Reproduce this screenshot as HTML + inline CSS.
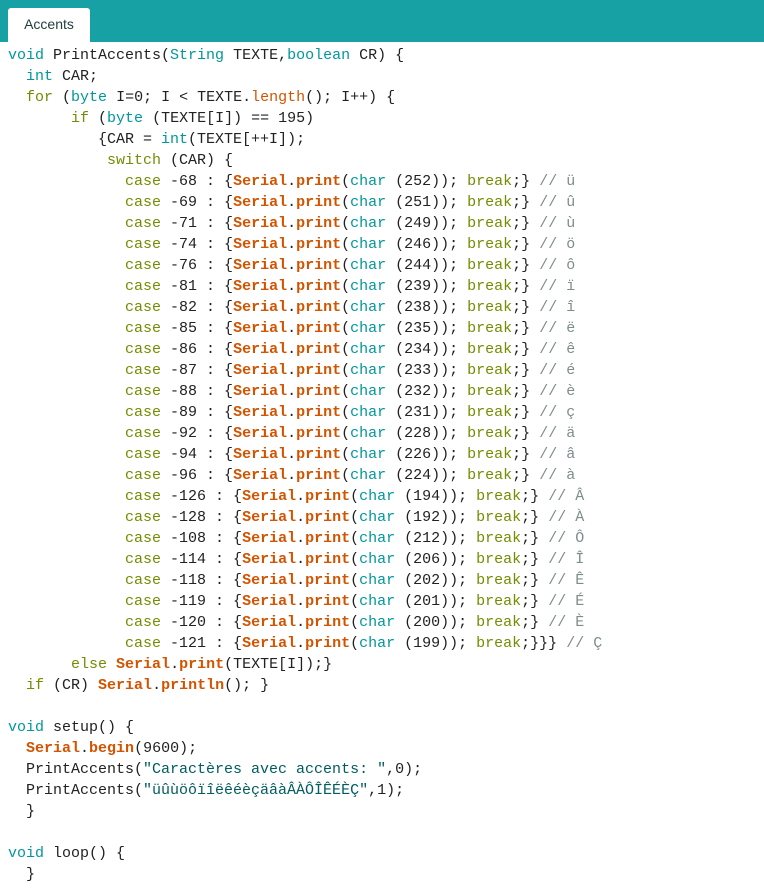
<!DOCTYPE html>
<html><head><meta charset="utf-8"><style>
html,body{margin:0;padding:0;background:#fff;width:764px;height:894px;overflow:hidden}
.bar{position:absolute;left:0;top:0;width:764px;height:42px;background:#17a1a5}
.tab{position:absolute;left:8px;top:8px;width:82px;height:34px;background:#fff;border-radius:3px 3px 0 0;font:14px "Liberation Sans",sans-serif;color:#1f3c3d;line-height:32px;text-align:center}
pre{position:absolute;left:8px;top:45px;margin:0;font:15px/21px "Liberation Mono",monospace;color:#222}
.t{color:#00979c}.k{color:#728e00}.o{color:#d35400}.b{color:#d35400;font-weight:bold}.c{color:#7f8c8d}.s{color:#005c5f}
</style></head><body>
<div class="bar"></div><div class="tab">Accents</div>
<pre><span class="t">void</span> PrintAccents(<span class="t">String</span> TEXTE,<span class="t">boolean</span> CR) {
  <span class="t">int</span> CAR;
  <span class="k">for</span> (<span class="t">byte</span> I=0; I &lt; TEXTE.<span class="o">length</span>(); I++) {
       <span class="k">if</span> (<span class="t">byte</span> (TEXTE[I]) == 195)
          {CAR = <span class="t">int</span>(TEXTE[++I]);
           <span class="k">switch</span> (CAR) {
             <span class="k">case</span> -68 : {<span class="b">Serial</span>.<span class="b">print</span>(<span class="t">char</span> (252)); <span class="k">break</span>;} <span class="c">// ü</span>
             <span class="k">case</span> -69 : {<span class="b">Serial</span>.<span class="b">print</span>(<span class="t">char</span> (251)); <span class="k">break</span>;} <span class="c">// û</span>
             <span class="k">case</span> -71 : {<span class="b">Serial</span>.<span class="b">print</span>(<span class="t">char</span> (249)); <span class="k">break</span>;} <span class="c">// ù</span>
             <span class="k">case</span> -74 : {<span class="b">Serial</span>.<span class="b">print</span>(<span class="t">char</span> (246)); <span class="k">break</span>;} <span class="c">// ö</span>
             <span class="k">case</span> -76 : {<span class="b">Serial</span>.<span class="b">print</span>(<span class="t">char</span> (244)); <span class="k">break</span>;} <span class="c">// ô</span>
             <span class="k">case</span> -81 : {<span class="b">Serial</span>.<span class="b">print</span>(<span class="t">char</span> (239)); <span class="k">break</span>;} <span class="c">// ï</span>
             <span class="k">case</span> -82 : {<span class="b">Serial</span>.<span class="b">print</span>(<span class="t">char</span> (238)); <span class="k">break</span>;} <span class="c">// î</span>
             <span class="k">case</span> -85 : {<span class="b">Serial</span>.<span class="b">print</span>(<span class="t">char</span> (235)); <span class="k">break</span>;} <span class="c">// ë</span>
             <span class="k">case</span> -86 : {<span class="b">Serial</span>.<span class="b">print</span>(<span class="t">char</span> (234)); <span class="k">break</span>;} <span class="c">// ê</span>
             <span class="k">case</span> -87 : {<span class="b">Serial</span>.<span class="b">print</span>(<span class="t">char</span> (233)); <span class="k">break</span>;} <span class="c">// é</span>
             <span class="k">case</span> -88 : {<span class="b">Serial</span>.<span class="b">print</span>(<span class="t">char</span> (232)); <span class="k">break</span>;} <span class="c">// è</span>
             <span class="k">case</span> -89 : {<span class="b">Serial</span>.<span class="b">print</span>(<span class="t">char</span> (231)); <span class="k">break</span>;} <span class="c">// ç</span>
             <span class="k">case</span> -92 : {<span class="b">Serial</span>.<span class="b">print</span>(<span class="t">char</span> (228)); <span class="k">break</span>;} <span class="c">// ä</span>
             <span class="k">case</span> -94 : {<span class="b">Serial</span>.<span class="b">print</span>(<span class="t">char</span> (226)); <span class="k">break</span>;} <span class="c">// â</span>
             <span class="k">case</span> -96 : {<span class="b">Serial</span>.<span class="b">print</span>(<span class="t">char</span> (224)); <span class="k">break</span>;} <span class="c">// à</span>
             <span class="k">case</span> -126 : {<span class="b">Serial</span>.<span class="b">print</span>(<span class="t">char</span> (194)); <span class="k">break</span>;} <span class="c">// Â</span>
             <span class="k">case</span> -128 : {<span class="b">Serial</span>.<span class="b">print</span>(<span class="t">char</span> (192)); <span class="k">break</span>;} <span class="c">// À</span>
             <span class="k">case</span> -108 : {<span class="b">Serial</span>.<span class="b">print</span>(<span class="t">char</span> (212)); <span class="k">break</span>;} <span class="c">// Ô</span>
             <span class="k">case</span> -114 : {<span class="b">Serial</span>.<span class="b">print</span>(<span class="t">char</span> (206)); <span class="k">break</span>;} <span class="c">// Î</span>
             <span class="k">case</span> -118 : {<span class="b">Serial</span>.<span class="b">print</span>(<span class="t">char</span> (202)); <span class="k">break</span>;} <span class="c">// Ê</span>
             <span class="k">case</span> -119 : {<span class="b">Serial</span>.<span class="b">print</span>(<span class="t">char</span> (201)); <span class="k">break</span>;} <span class="c">// É</span>
             <span class="k">case</span> -120 : {<span class="b">Serial</span>.<span class="b">print</span>(<span class="t">char</span> (200)); <span class="k">break</span>;} <span class="c">// È</span>
             <span class="k">case</span> -121 : {<span class="b">Serial</span>.<span class="b">print</span>(<span class="t">char</span> (199)); <span class="k">break</span>;}}} <span class="c">// Ç</span>
       <span class="k">else</span> <span class="b">Serial</span>.<span class="b">print</span>(TEXTE[I]);}
  <span class="k">if</span> (CR) <span class="b">Serial</span>.<span class="b">println</span>(); }

<span class="t">void</span> setup() {
  <span class="b">Serial</span>.<span class="b">begin</span>(9600);
  PrintAccents(<span class="s">"Caractères avec accents: "</span>,0);
  PrintAccents(<span class="s">"üûùöôïîëêéèçäâàÂÀÔÎÊÉÈÇ"</span>,1);
  }

<span class="t">void</span> loop() {
  }</pre>
</body></html>
